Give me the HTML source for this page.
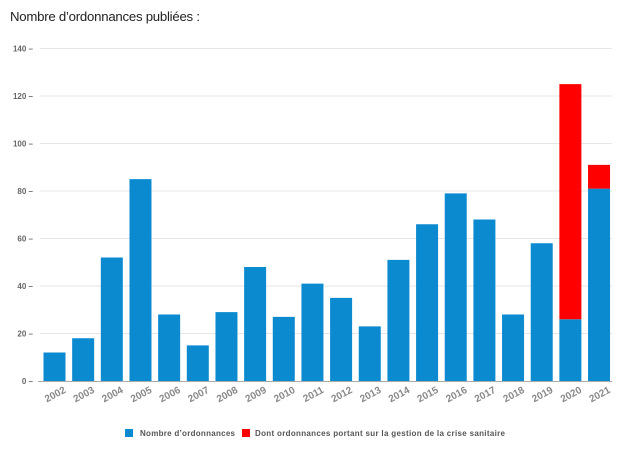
<!DOCTYPE html><html><head><style>body{margin:0;background:#fff;width:620px;height:449px;overflow:hidden}</style></head><body>
<svg width="620" height="449" xmlns="http://www.w3.org/2000/svg" font-family="Liberation Sans, sans-serif">
<text x="10" y="21" font-size="13.2" fill="#222" textLength="190">Nombre d’ordonnances publiées :</text>
<g stroke="#e6e6e6" stroke-width="1">
<line x1="40" x2="612" y1="48.5" y2="48.5"/><line x1="40" x2="612" y1="96" y2="96"/><line x1="40" x2="612" y1="143.5" y2="143.5"/><line x1="40" x2="612" y1="191" y2="191"/><line x1="40" x2="612" y1="238.5" y2="238.5"/><line x1="40" x2="612" y1="286" y2="286"/><line x1="40" x2="612" y1="333.5" y2="333.5"/>
</g>
<g font-size="8" font-weight="bold" fill="#666" text-anchor="end">
<text x="33" y="51.5">140 –</text><text x="33" y="99">120 –</text><text x="33" y="146.5">100 –</text><text x="33" y="194">80 –</text><text x="33" y="241.5">60 –</text><text x="33" y="289">40 –</text><text x="33" y="336.5">20 –</text><text x="33" y="384">0 –</text>
</g>
<g fill="#0b8ad0" id="bars"></g>
<line x1="38" x2="612" y1="381.5" y2="381.5" stroke="#aaa"/>
<g id="lbl" font-size="10" font-weight="bold" fill="#888"></g>
<rect x="125" y="429" width="8" height="8" fill="#0b8ad0"/>
<text x="140" y="436" font-size="8" font-weight="bold" fill="#555" textLength="95">Nombre d’ordonnances</text>
<rect x="242" y="429" width="8" height="8" fill="#f00"/>
<text x="255" y="436" font-size="8" font-weight="bold" fill="#555" textLength="250">Dont ordonnances portant sur la gestion de la crise sanitaire</text>
</svg>
<script>
var v=[12,18,52,85,28,15,29,48,27,41,35,23,51,66,79,68,28,58,26,81],r=[0,0,0,0,0,0,0,0,0,0,0,0,0,0,0,0,0,0,99,10];
var b=document.getElementById('bars'),l=document.getElementById('lbl'),ns='http://www.w3.org/2000/svg',k=2.375,y0=381;
for(var i=0;i<20;i++){var x=43.5+i*28.66;
var e=document.createElementNS(ns,'rect');e.setAttribute('x',x);e.setAttribute('width',22);e.setAttribute('y',y0-v[i]*k);e.setAttribute('height',v[i]*k);b.appendChild(e);
if(r[i]){e=document.createElementNS(ns,'rect');e.setAttribute('x',x);e.setAttribute('width',22);e.setAttribute('y',y0-(v[i]+r[i])*k);e.setAttribute('height',r[i]*k);e.setAttribute('fill','#f00');b.appendChild(e);}
var t=document.createElementNS(ns,'text');t.setAttribute('transform','translate('+(x+23)+',392) rotate(-28)');t.setAttribute('text-anchor','end');t.textContent=2002+i;l.appendChild(t);}
</script>
</body></html>
